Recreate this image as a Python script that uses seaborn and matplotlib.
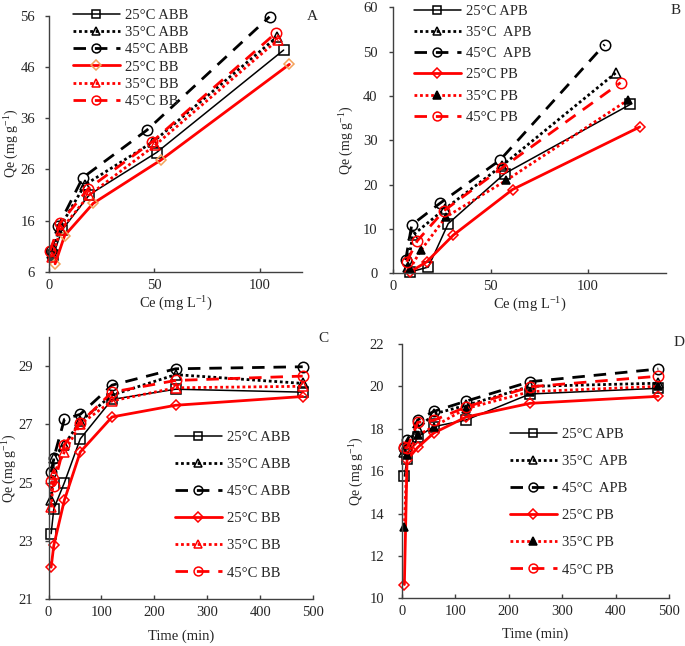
import numpy as np
import pandas as pd
import matplotlib
matplotlib.use("Agg")
import matplotlib.pyplot as plt
import seaborn as sns

# ---------------- data ----------------
# Panel A (isotherms ABB / BB)
A_labels = ["25°C ABB", "35°C ABB", "45°C ABB", "25°C BB", "35°C BB", "45°C BB"]
A_ce_25ABB = [2.1, 6.0, 19.2, 51.0, 111.3]
A_qe_25ABB = [9.3, 14.1, 21.1, 29.3, 49.3]
A_ce_35ABB = [1.5, 5.0, 17.0, 49.4, 108.0]
A_qe_35ABB = [9.8, 14.6, 23.0, 31.4, 51.8]
A_ce_45ABB = [1.0, 4.5, 16.0, 46.5, 104.6]
A_qe_45ABB = [10.0, 15.0, 24.4, 33.7, 55.8]
A_ce_25BB = [2.9, 7.4, 21.0, 52.9, 114.0]
A_qe_25BB = [7.6, 13.1, 19.4, 27.8, 46.5]
A_ce_35BB = [1.5, 5.5, 19.0, 50.2, 108.6]
A_qe_35BB = [9.0, 14.2, 21.0, 30.7, 51.3]
A_ce_45BB = [0.4, 5.2, 18.5, 48.9, 107.8]
A_qe_45BB = [10.1, 15.5, 22.2, 31.4, 52.7]

# Panel B (isotherms APB / PB)
B_labels = ["25°C APB", "35°C  APB", "45°C  APB", "25°C PB", "35°C PB", "45°C PB"]
B_ce_25APB = [8.7, 18.1, 28.3, 57.3, 121.7]
B_qe_25APB = [0.3, 1.4, 11.2, 22.5, 38.1]
B_ce_35APB = [7.5, 10.1, 26.5, 56.0, 114.2]
B_qe_35APB = [1.5, 8.6, 14.5, 24.3, 45.2]
B_ce_45APB = [6.5, 9.6, 24.1, 54.8, 108.5]
B_qe_45APB = [3.0, 10.9, 15.8, 25.5, 51.6]
B_ce_25PB = [8.7, 17.3, 30.9, 61.3, 126.5]
B_qe_25PB = [0.3, 2.6, 8.6, 18.9, 33.0]
B_ce_35PB = [8.7, 14.3, 27.1, 58.2, 120.5]
B_qe_35PB = [1.0, 5.2, 12.7, 21.0, 39.1]
B_ce_45PB = [7.0, 12.4, 26.1, 55.7, 116.7]
B_qe_45PB = [2.6, 7.3, 14.1, 23.7, 43.0]

# Panels C and D (kinetics)
time_min = [5, 10, 30, 60, 120, 240, 480]
C_qe_25ABB = [23.25, 24.1, 25.0, 26.5, 27.85, 28.2, 28.1]
C_qe_35ABB = [24.4, 25.85, 26.3, 27.1, 28.0, 28.7, 28.4]
C_qe_45ABB = [25.35, 25.85, 27.17, 27.34, 28.34, 28.9, 28.97]
C_qe_25BB = [22.1, 22.85, 24.4, 26.05, 27.25, 27.65, 27.95]
C_qe_35BB = [24.15, 25.3, 26.05, 27.0, 27.8, 28.25, 28.3]
C_qe_45BB = [25.05, 24.9, 26.3, 27.05, 28.1, 28.5, 28.65]

D_qe_25APB = [15.77, 16.55, 17.62, 18.1, 18.41, 19.64, 19.91]
D_qe_35APB = [16.9, 17.3, 18.0, 18.7, 19.1, 20.0, 20.15]
D_qe_45APB = [17.1, 17.45, 18.42, 18.82, 19.3, 20.22, 20.82]
D_qe_25PB = [10.65, 16.53, 17.12, 17.8, 18.55, 19.2, 19.53]
D_qe_35PB = [13.38, 16.76, 17.7, 18.1, 18.95, 19.75, 20.0]
D_qe_45PB = [17.12, 17.1, 18.3, 18.4, 19.02, 19.98, 20.48]

# ---------------- style ----------------
sns.set_style("ticks")
plt.rcParams["font.family"] = ["Liberation Serif", "DejaVu Serif"]
plt.rcParams["mathtext.fontset"] = "custom"
plt.rcParams["mathtext.rm"] = "Liberation Serif"
plt.rcParams["mathtext.it"] = "Liberation Serif:italic"

BLACK = "#000000"
RED = "#FF0000"
ORANGE = "#F4A25A"
DASH = (0, (4.5, 3.2))
DOT = (0, (1, 1))

def styles(variant):
    s = [
        dict(color=BLACK, linestyle="-", lw=1.1, marker="s", ms=7, mfc="none", mec=BLACK, mew=1.1),
        dict(color=BLACK, linestyle=DOT, lw=2.0, marker="^", ms=7, mfc="none", mec=BLACK, mew=1.1),
        dict(color=BLACK, linestyle=DASH, lw=2.0, marker="o", ms=7.5, mfc="none", mec=BLACK, mew=1.1),
        dict(color=RED, linestyle="-", lw=2.0, marker="D", ms=5.5, mfc="none", mec=RED, mew=1.1),
        dict(color=RED, linestyle=DOT, lw=2.0, marker="^", ms=7, mfc="none", mec=RED, mew=1.1),
        dict(color=RED, linestyle=DASH, lw=2.0, marker="o", ms=7.5, mfc="none", mec=RED, mew=1.1),
    ]
    if variant == "A":
        s[3]["mec"] = ORANGE
    if variant in ("B", "D"):
        s[4]["mfc"] = BLACK
        s[4]["mec"] = BLACK
        s[4]["ms"] = 6
    return s

fig = plt.figure(figsize=(6.85, 6.46), dpi=100)
W, H = 685.0, 646.0

def make_ax(left, right, top, bottom):
    return fig.add_axes([left / W, 1 - bottom / H, (right - left) / W, (bottom - top) / H])

axA = make_ax(49, 302, 15.7, 272)
axB = make_ax(393, 666, 7.3, 273.3)
axC = make_ax(48.5, 313.3, 336.7, 599.3)
axD = make_ax(401.7, 669, 344, 598.3)

def draw(ax, xs_list, ys_list, labels, variant):
    st = styles(variant)
    for x, y, lab, s in zip(xs_list, ys_list, labels, st):
        df = pd.DataFrame({"x": x, "y": y})
        sns.lineplot(data=df, x="x", y="y", ax=ax, sort=False, estimator=None,
                     errorbar=None, label=lab, color=s["color"], linestyle=s["linestyle"],
                     linewidth=s["lw"], marker=s["marker"], markersize=s["ms"],
                     markerfacecolor=s["mfc"], markeredgecolor=s["mec"],
                     markeredgewidth=s["mew"], clip_on=False)

draw(axA, [A_ce_25ABB, A_ce_35ABB, A_ce_45ABB, A_ce_25BB, A_ce_35BB, A_ce_45BB],
     [A_qe_25ABB, A_qe_35ABB, A_qe_45ABB, A_qe_25BB, A_qe_35BB, A_qe_45BB], A_labels, "A")
draw(axB, [B_ce_25APB, B_ce_35APB, B_ce_45APB, B_ce_25PB, B_ce_35PB, B_ce_45PB],
     [B_qe_25APB, B_qe_35APB, B_qe_45APB, B_qe_25PB, B_qe_35PB, B_qe_45PB], B_labels, "B")
draw(axC, [time_min] * 6,
     [C_qe_25ABB, C_qe_35ABB, C_qe_45ABB, C_qe_25BB, C_qe_35BB, C_qe_45BB], A_labels, "C")
draw(axD, [time_min] * 6,
     [D_qe_25APB, D_qe_35APB, D_qe_45APB, D_qe_25PB, D_qe_35PB, D_qe_45PB], B_labels, "D")

FS = 10.5
ylab = r"Qe (mg g$^{\mathregular{-1}}$)"

def setup(ax, xlim, xticks, ylim, yticks, xlabel, ylabel_x, xlabel_y, ypad):
    ax.set_xlim(*xlim)
    ax.set_ylim(*ylim)
    ax.set_xticks(xticks)
    ax.set_yticks(yticks)
    for side in ("top", "right"):
        ax.spines[side].set_visible(False)
    for side in ("left", "bottom"):
        ax.spines[side].set_color("#404040")
        ax.spines[side].set_linewidth(1.0)
    ax.tick_params(axis="y", direction="out", length=3, width=1, color="#404040",
                   labelsize=FS, pad=ypad)
    ax.tick_params(axis="x", direction="in", length=3, width=1, color="#404040",
                   labelsize=FS, pad=5)
    ax.set_xlabel(xlabel, fontsize=FS)
    ax.set_ylabel(ylab, fontsize=10)
    ax.yaxis.set_label_coords(ylabel_x, 0.5)
    ax.xaxis.set_label_coords(0.5, xlabel_y)

setup(axA, (0, 120), [0, 50, 100], (6, 56), np.arange(6, 57, 10),
      r"Ce (mg L$^{\mathregular{-1}}$)", -0.112, -0.09, 7)
setup(axB, (0, 140), [0, 50, 100], (0, 60), np.arange(0, 61, 10),
      r"Ce (mg L$^{\mathregular{-1}}$)", -0.136, -0.085, 8)
setup(axC, (0, 500), np.arange(0, 501, 100), (21, 30), np.arange(21, 30, 2),
      "Time (min)", -0.112, -0.115, 8)
setup(axD, (0, 500), np.arange(0, 501, 100), (10, 22), np.arange(10, 23, 2),
      "Time (min)", -0.135, -0.115, 9.5)

def legend(ax, x_px, y_px, spacing):
    h, l = ax.get_legend_handles_labels()
    leg = ax.legend(h, l, loc="upper left", bbox_to_anchor=(x_px / W, 1 - y_px / H),
                    bbox_transform=fig.transFigure, frameon=False, fontsize=FS,
                    handlelength=3.2, handletextpad=0.35, labelspacing=spacing,
                    borderpad=0, borderaxespad=0, markerscale=0.85)
    return leg

legend(axA, 73, 8.5, 0.28)
legend(axB, 414, 4.5, 0.55)
legend(axC, 175, 431, 0.95)
legend(axD, 510, 428, 0.95)

fig.text(312 / W, 1 - 16 / H, "A", fontsize=11, ha="center", va="center")
fig.text(676 / W, 1 - 10 / H, "B", fontsize=11, ha="center", va="center")
fig.text(323 / W, 1 - 339 / H, "C", fontsize=11, ha="center", va="center")
fig.text(679 / W, 1 - 342 / H, "D", fontsize=11, ha="center", va="center")

fig.savefig("out.png", dpi=100)
